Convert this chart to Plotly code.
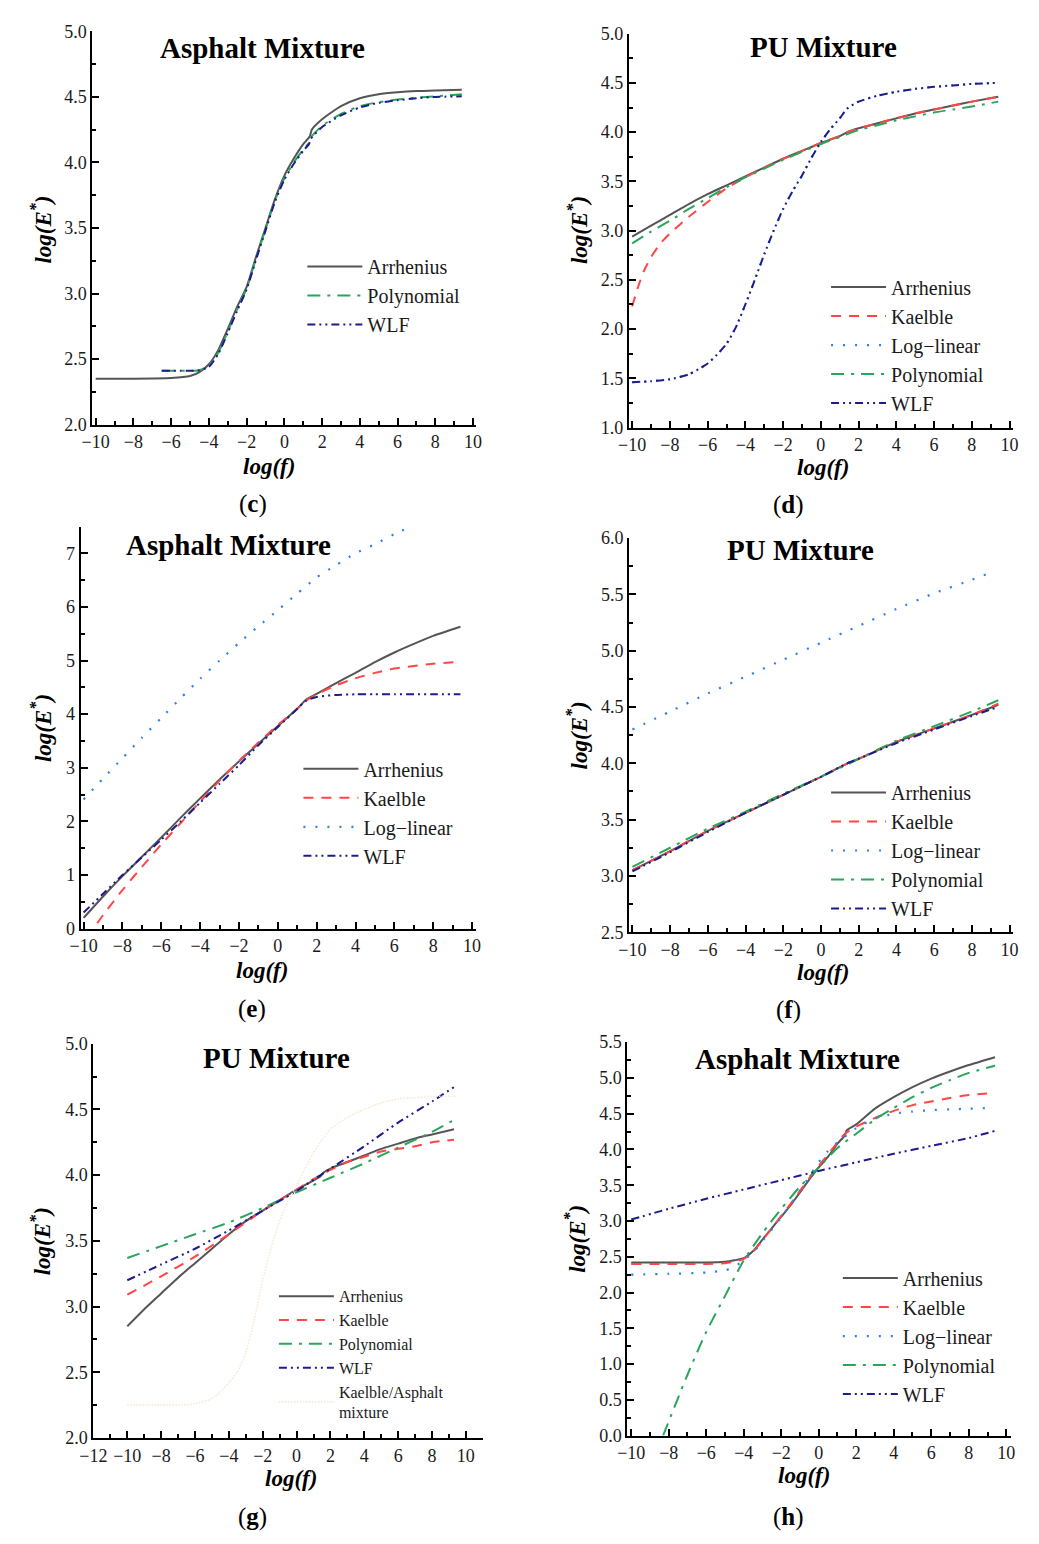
import plotly.graph_objects as go

W, H = 1039, 1544
FONT = "Liberation Serif"

def px(x):
    return x / W

def py(y):
    return 1 - y / H

# ---------------- DATA ----------------
# (c) Asphalt mixture
c_arr_x = [-10, -8, -6, -5, -4.5, -4, -3.5, -3, -2.5, -2, -1.5, -1, -0.5, 0, 0.5, 1, 1.35, 1.45, 2, 3, 4, 5, 6, 7, 8, 9.4]
c_arr_y = [2.35, 2.35, 2.355, 2.37, 2.40, 2.46, 2.57, 2.73, 2.9, 3.05, 3.28, 3.5, 3.72, 3.9, 4.03, 4.14, 4.2, 4.25, 4.33, 4.43, 4.49, 4.52, 4.535, 4.545, 4.55, 4.555]
c_pol_x = [-6.5, -5.5, -5, -4.5, -4, -3.5, -3, -2.5, -2, -1.5, -1, -0.5, 0, 0.5, 1, 1.3, 1.4, 2, 3, 4, 5, 6, 7, 8, 9.4]
c_pol_y = [2.41, 2.41, 2.41, 2.415, 2.45, 2.55, 2.71, 2.88, 3.04, 3.27, 3.49, 3.71, 3.88, 4.0, 4.1, 4.15, 4.19, 4.28, 4.37, 4.43, 4.46, 4.48, 4.495, 4.505, 4.52]
c_wlf_x = c_pol_x
c_wlf_y = [2.41, 2.41, 2.41, 2.415, 2.44, 2.54, 2.70, 2.87, 3.03, 3.26, 3.48, 3.70, 3.87, 3.99, 4.09, 4.14, 4.18, 4.27, 4.36, 4.42, 4.455, 4.475, 4.49, 4.5, 4.505]

# (d) PU mixture
d_x = [-10, -9, -8, -7, -6, -5, -4, -3, -2, -1, 0, 1, 1.4, 2, 3, 4, 5, 6, 7, 8, 9.4]
d_arr_y = [2.94, 3.05, 3.16, 3.27, 3.37, 3.46, 3.55, 3.64, 3.73, 3.81, 3.89, 3.96, 4.0, 4.04, 4.09, 4.14, 4.19, 4.23, 4.27, 4.31, 4.36]
d_kae_x = [-10, -9.7, -9.4, -9, -8.5, -8, -7, -6, -5, -4, -3, -2, -1, 0, 1, 1.4, 2, 3, 4, 5, 6, 7, 8, 9.4]
d_kae_y = [2.23, 2.42, 2.58, 2.73, 2.87, 2.97, 3.14, 3.29, 3.43, 3.54, 3.64, 3.73, 3.81, 3.89, 3.96, 4.0, 4.04, 4.09, 4.14, 4.19, 4.23, 4.27, 4.31, 4.36]
d_pol_y = [2.87, 2.99, 3.10, 3.22, 3.33, 3.44, 3.54, 3.63, 3.72, 3.80, 3.88, 3.95, 3.98, 4.02, 4.07, 4.12, 4.16, 4.2, 4.23, 4.26, 4.31]
d_wlf_x = [-10, -9, -8, -7, -6.5, -6, -5.5, -5, -4.5, -4, -3.5, -3, -2.5, -2, -1.5, -1, -0.5, 0, 0.5, 1, 1.4, 2, 3, 4, 5, 6, 7, 8, 9.4]
d_wlf_y = [1.46, 1.47, 1.49, 1.54, 1.59, 1.65, 1.74, 1.85, 2.02, 2.25, 2.50, 2.76, 3.0, 3.22, 3.40, 3.56, 3.74, 3.9, 4.03, 4.14, 4.24, 4.31, 4.37, 4.41, 4.44, 4.46, 4.475, 4.49, 4.5]
d_log_x = d_wlf_x
d_log_y = d_wlf_y

# (e) Asphalt mixture
e_x = [-10, -9, -8, -7, -6, -5, -4, -3, -2, -1, 0, 1, 1.45, 2, 3, 4, 5, 6, 7, 8, 9.4]
e_arr_y = [0.2, 0.6, 0.98, 1.34, 1.7, 2.07, 2.43, 2.78, 3.12, 3.45, 3.78, 4.1, 4.27, 4.38, 4.58, 4.77, 4.97, 5.15, 5.31, 5.46, 5.63]
e_kae_x = [-9.3, -9, -8, -7, -6, -5, -4, -3, -2, -1, 0, 1, 1.45, 2, 3, 4, 5, 6, 7, 8, 9.4]
e_kae_y = [0.1, 0.25, 0.72, 1.15, 1.57, 1.97, 2.37, 2.76, 3.13, 3.47, 3.8, 4.1, 4.25, 4.37, 4.54, 4.67, 4.77, 4.85, 4.9, 4.94, 4.98]
e_log_x = [-10, -9, -8, -7, -6, -5, -4, -3, -2, -1, 0, 1, 2, 3, 4, 5, 6, 6.8]
e_log_y = [2.41, 2.8, 3.18, 3.56, 3.93, 4.3, 4.66, 5.0, 5.33, 5.64, 5.94, 6.25, 6.55, 6.78, 7.0, 7.17, 7.36, 7.49]
e_wlf_y = [0.3, 0.65, 1.0, 1.33, 1.66, 2.0, 2.35, 2.7, 3.05, 3.42, 3.76, 4.1, 4.25, 4.32, 4.36, 4.37, 4.37, 4.37, 4.37, 4.37, 4.37]

# (f) PU mixture
f_x = [-10, -8, -6, -4, -2, 0, 1.4, 2, 4, 6, 8, 9.4]
f_arr_y = [3.05, 3.22, 3.40, 3.56, 3.72, 3.88, 4.0, 4.04, 4.19, 4.31, 4.43, 4.52]
f_kae_y = [3.05, 3.22, 3.40, 3.56, 3.72, 3.88, 4.0, 4.04, 4.19, 4.31, 4.43, 4.53]
f_log_x = [-10, -8, -6, -4, -2, 0, 2, 4, 6, 8, 9.1]
f_log_y = [4.30, 4.46, 4.62, 4.77, 4.92, 5.07, 5.22, 5.37, 5.51, 5.63, 5.70]
f_pol_y = [3.08, 3.25, 3.42, 3.57, 3.73, 3.88, 3.99, 4.04, 4.20, 4.33, 4.46, 4.56]
f_wlf_y = [3.04, 3.21, 3.39, 3.56, 3.72, 3.88, 4.0, 4.04, 4.18, 4.30, 4.42, 4.50]

# (g) PU mixture
g_arr_x = [-10, -9, -8, -7, -6, -5, -4, -3, -2, -1, 0, 1, 1.4, 1.6, 2, 3, 4, 5, 6, 7, 8, 9.3]
g_arr_y = [2.85, 2.98, 3.10, 3.22, 3.33, 3.44, 3.55, 3.65, 3.73, 3.81, 3.89, 3.96, 3.99, 4.02, 4.05, 4.1, 4.15, 4.2, 4.24, 4.28, 4.31, 4.35]
g_kae_x = [-10, -8, -6, -4, -2, 0, 1, 2, 3, 4, 5, 6, 7, 8, 9.3]
g_kae_y = [3.09, 3.23, 3.38, 3.55, 3.73, 3.89, 3.97, 4.04, 4.1, 4.14, 4.18, 4.2, 4.22, 4.25, 4.27]
g_x = [-10, -8, -6, -4, -2, 0, 2, 4, 6, 8, 9.3]
g_pol_y = [3.37, 3.46, 3.55, 3.64, 3.75, 3.87, 3.98, 4.09, 4.21, 4.33, 4.42]
g_wlf_y = [3.20, 3.32, 3.44, 3.58, 3.73, 3.88, 4.05, 4.22, 4.40, 4.56, 4.67]
g_ka_x = [-10, -8, -7, -6, -5, -4.5, -4, -3.5, -3, -2.5, -2, -1.5, -1, -0.5, 0, 0.5, 1, 1.5, 2, 3, 4, 5, 6, 7, 8, 9.4]
g_ka_y = [2.25, 2.25, 2.25, 2.26, 2.3, 2.35, 2.42, 2.5, 2.65, 2.9, 3.2, 3.45, 3.65, 3.8, 3.92, 4.05, 4.17, 4.27, 4.35, 4.44, 4.5, 4.55, 4.58, 4.59, 4.6, 4.6]

# (h) Asphalt mixture
h_arr_x = [-10, -8, -6, -5, -4.5, -4, -3.5, -3, -2.5, -2, -1.5, -1, -0.5, 0, 0.5, 1, 1.4, 1.5, 2, 3, 4, 5, 6, 7, 8, 9.4]
h_arr_y = [2.42, 2.42, 2.42, 2.43, 2.45, 2.48, 2.58, 2.74, 2.9, 3.06, 3.22, 3.4, 3.58, 3.75, 3.9, 4.08, 4.2, 4.27, 4.35, 4.57, 4.73, 4.87, 4.99, 5.09, 5.18, 5.29]
h_kae_x = [-10, -8, -6, -5, -4.5, -4, -3.5, -3, -2.5, -2, -1.5, -1, -0.5, 0, 0.5, 1, 1.4, 2, 3, 4, 5, 6, 7, 8, 9.3]
h_kae_y = [2.40, 2.40, 2.40, 2.41, 2.43, 2.47, 2.57, 2.73, 2.9, 3.07, 3.24, 3.42, 3.6, 3.77, 3.93, 4.1, 4.22, 4.32, 4.44, 4.54, 4.62, 4.67, 4.72, 4.76, 4.79]
h_log_x = [-10, -8, -6, -5, -4.5, -4, -3.5, -3, -2, -1, 0, 0.5, 1, 1.5, 2, 3, 4, 5, 6, 7, 8, 9.3]
h_log_y = [2.25, 2.26, 2.28, 2.31, 2.36, 2.45, 2.56, 2.72, 3.05, 3.42, 3.82, 3.98, 4.1, 4.2, 4.3, 4.43, 4.5, 4.53, 4.55, 4.56, 4.57, 4.58]
h_pol_x = [-8.3, -7, -6, -5, -4, -3, -2, -1, 0, 1, 2, 3, 4, 5, 6, 7, 8, 9.4]
h_pol_y = [0.0, 0.85, 1.45, 1.95, 2.45, 2.83, 3.17, 3.48, 3.75, 4.02, 4.22, 4.42, 4.58, 4.73, 4.86, 4.97, 5.07, 5.17]
h_wlf_x = [-10, -8, -6, -4, -2, 0, 2, 4, 6, 8, 9.4]
h_wlf_y = [3.02, 3.17, 3.31, 3.44, 3.57, 3.70, 3.82, 3.94, 4.05, 4.16, 4.26]

# ---------------- STYLES ----------------
STY = {
    "Arrhenius": dict(color="#555555", width=2, dash="solid"),
    "Kaelble": dict(color="#ff4545", width=2, dash="10px,8px"),
    "Log\u2212linear": dict(color="#2f80ee", width=2.2, dash="2px,10px"),
    "Polynomial": dict(color="#2aa55a", width=2, dash="13px,7px,3px,7px"),
    "WLF": dict(color="#1c1c8c", width=2, dash="8px,4px,2px,4px,2px,4px"),
    "Kaelble/Asphalt<br>mixture": dict(color="#f8e8d6", width=1.6, dash="1.5px,1.5px"),
}

fig = go.Figure()

panels = [
    dict(idx=1, box=(80, 21.7, 471, 420), xr=[-10.17, 10.15], yr=[2, 5], dt=0.5, fmt=".1f",
         series=[("Arrhenius", c_arr_x, c_arr_y), ("Polynomial", c_pol_x, c_pol_y), ("WLF", c_wlf_x, c_wlf_y)],
         title="Asphalt Mixture", tpos=(253, 39), xt=(260, 462), yt=(28, 222), lab="c", lpos=(244, 500),
         leg=(356, 256), lfs=20),
    dict(idx=2, box=(627, 24, 1019, 423), xr=[-10.17, 10.2], yr=[1, 5], dt=0.5, fmt=".1f",
         series=[("Arrhenius", d_x, d_arr_y), ("Kaelble", d_kae_x, d_kae_y), ("Log\u2212linear", d_log_x, d_log_y),
                 ("Polynomial", d_x, d_pol_y), ("WLF", d_wlf_x, d_wlf_y)],
         title="PU Mixture", tpos=(825, 37), xt=(825, 463), yt=(575, 223), lab="d", lpos=(790, 502),
         leg=(890, 277), lfs=20),
    dict(idx=3, box=(68, 523.3, 471, 930.7), xr=[-10.15, 10.2], yr=[0, 7.5], dt=1, fmt="d",
         series=[("Arrhenius", e_x, e_arr_y), ("Kaelble", e_kae_x, e_kae_y), ("Log\u2212linear", e_log_x, e_log_y),
                 ("WLF", e_x, e_wlf_y)],
         title="Asphalt Mixture", tpos=(219, 542), xt=(253, 973), yt=(28, 727), lab="e", lpos=(243, 1012),
         leg=(352, 765), lfs=20),
    dict(idx=4, box=(627.3, 535, 1019, 934.3), xr=[-10.17, 10.2], yr=[2.5, 6], dt=0.5, fmt=".1f",
         series=[("Arrhenius", f_x, f_arr_y), ("Kaelble", f_x, f_kae_y), ("Log\u2212linear", f_log_x, f_log_y),
                 ("Polynomial", f_x, f_pol_y), ("WLF", f_x, f_wlf_y)],
         title="PU Mixture", tpos=(802, 547), xt=(825, 975), yt=(575, 735), lab="f", lpos=(790, 1013),
         leg=(890, 789), lfs=20),
    dict(idx=5, box=(81, 1047.3, 478, 1446.7), xr=[-12, 11], yr=[2, 5], dt=0.5, fmt=".1f",
         series=[("Arrhenius", g_arr_x, g_arr_y), ("Kaelble", g_kae_x, g_kae_y), ("Polynomial", g_x, g_pol_y),
                 ("WLF", g_x, g_wlf_y), ("Kaelble/Asphalt<br>mixture", g_ka_x, g_ka_y)],
         title="PU Mixture", tpos=(268, 1062), xt=(282, 1488), yt=(28, 1247), lab="g", lpos=(243, 1527),
         leg=(327, 1302), lfs=16),
    dict(idx=6, box=(625.3, 1045.7, 1016.7, 1444.3), xr=[-10.21, 10.26], yr=[0, 5.5], dt=0.5, fmt=".1f",
         series=[("Arrhenius", h_arr_x, h_arr_y), ("Kaelble", h_kae_x, h_kae_y), ("Log\u2212linear", h_log_x, h_log_y),
                 ("Polynomial", h_pol_x, h_pol_y), ("WLF", h_wlf_x, h_wlf_y)],
         title="Asphalt Mixture", tpos=(799, 1063), xt=(805, 1485), yt=(573, 1245), lab="h", lpos=(790, 1527),
         leg=(902, 1281), lfs=20),
]

annotations = []
layout_axes = {}
legends = {}

for p in panels:
    i = p["idx"]
    xa = "x" if i == 1 else f"x{i}"
    ya = "y" if i == 1 else f"y{i}"
    lg = "legend" if i == 1 else f"legend{i}"
    order = p["series"]
    if i == 2:
        order = [order[0], order[1], order[3], order[2], order[4]]
    rank = {s[0]: k for k, s in enumerate(p["series"])}
    for name, xs, ys in order:
        st = STY[name]
        fig.add_trace(go.Scatter(
            x=xs, y=ys, mode="lines", name=name, xaxis=xa, yaxis=ya, legend=lg,
            legendrank=100 + rank[name],
            line=dict(color=st["color"], width=st["width"], dash=st["dash"], shape="spline", smoothing=0.6),
            hoverinfo="skip"))
    l, t, r, b = p["box"]
    axcommon = dict(showline=True, linewidth=2, linecolor="black", ticks="inside",
                    ticklen=7, tickwidth=2, tickcolor="black", showgrid=False, zeroline=False,
                    tickfont=dict(family=FONT, size=18, color="#1a1a1a"), mirror=False)
    layout_axes["xaxis" if i == 1 else f"xaxis{i}"] = dict(
        axcommon, domain=[px(l), px(r)], range=p["xr"], anchor=ya, dtick=2, tick0=0,
        minor=dict(ticks="inside", ticklen=4, tickwidth=2, tickcolor="black", dtick=1))
    yfmt = dict(tickformat=".1f") if p["fmt"] == ".1f" else dict(tickformat="d")
    layout_axes["yaxis" if i == 1 else f"yaxis{i}"] = dict(
        axcommon, domain=[py(b), py(t)], range=p["yr"], anchor=xa, dtick=p["dt"], tick0=0,
        minor=dict(ticks="inside", ticklen=4, tickwidth=2, tickcolor="black", dtick=p["dt"] / 2), **yfmt)
    lx, ly = p["leg"]
    legends[lg] = dict(x=px(lx - 62), y=py(ly - 16), xanchor="left", yanchor="top",
                       bgcolor="rgba(0,0,0,0)", itemwidth=55, traceorder="normal",
                       font=dict(family=FONT, size=p["lfs"], color="#1a1a1a"))
    annotations.append(dict(x=px(p["tpos"][0]), y=py(p["tpos"][1]), xref="paper", yref="paper",
                            text=f"<b>{p['title']}</b>", showarrow=False, xanchor="center", yanchor="middle",
                            font=dict(family=FONT, size=29, color="black")))
    annotations.append(dict(x=px(p["xt"][0]), y=py(p["xt"][1]), xref="paper", yref="paper",
                            text="<b><i>log(f)</i></b>", showarrow=False, xanchor="center", yanchor="middle",
                            font=dict(family=FONT, size=23, color="black")))
    annotations.append(dict(x=px(p["yt"][0]), y=py(p["yt"][1]), xref="paper", yref="paper",
                            text="<b><i>log(E<sup>*</sup>)</i></b>", showarrow=False, xanchor="center",
                            yanchor="middle", textangle=-90,
                            font=dict(family=FONT, size=23, color="black")))
    annotations.append(dict(x=px(p["lpos"][0]), y=py(p["lpos"][1]), xref="paper", yref="paper",
                            text=f"(<b>{p['lab']}</b>)", showarrow=False, xanchor="center", yanchor="middle",
                            font=dict(family=FONT, size=25, color="black")))

fig.update_layout(
    width=W, height=H, margin=dict(l=0, r=0, t=0, b=0),
    paper_bgcolor="white", plot_bgcolor="white",
    font=dict(family=FONT, color="#1a1a1a"),
    annotations=annotations, showlegend=True,
    **layout_axes, **legends,
)

fig.write_html("out.html")
